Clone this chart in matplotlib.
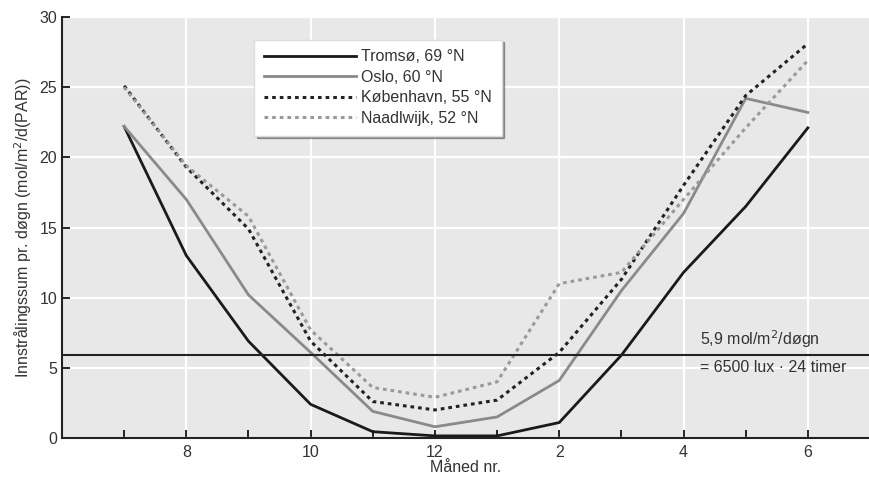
import numpy as np
import matplotlib.pyplot as plt

# månedene juli (7) til juni (18 = 6)
maaned = [7, 8, 9, 10, 11, 12, 13, 14, 15, 16, 17, 18]
tromso = [22.2, 13.0, 6.9, 2.4, 0.45, 0.15, 0.15, 1.1, 5.9, 11.8, 16.5, 22.1]
oslo = [22.2, 17.0, 10.2, 6.1, 1.9, 0.8, 1.5, 4.1, 10.5, 16.0, 24.2, 23.2]
kobenhavn = [25.1, 19.3, 14.9, 6.9, 2.6, 2.0, 2.7, 6.1, 11.3, 18.0, 24.4, 28.1]
naadlwijk = [25.0, 19.4, 15.8, 7.7, 3.6, 2.9, 4.0, 11.0, 11.8, 17.0, 22.1, 26.9]

xtick_pos = [8, 10, 12, 14, 16, 18]
xtick_lab = ['8', '10', '12', '2', '4', '6']
grense = 5.9

plt.rcParams['font.family'] = ['Liberation Sans', 'DejaVu Sans']

fig = plt.figure(figsize=(8.7, 4.79), dpi=100)
ax = fig.add_axes([62 / 870, 41 / 479, 808 / 870, 421 / 479])
ax.set_facecolor('#e8e8e8')

ax.plot(maaned, tromso, color='#1a1a1a', lw=2.0, label='Tromsø, 69 °N')
ax.plot(maaned, oslo, color='#8a8a8a', lw=2.0, label='Oslo, 60 °N')
ax.plot(maaned, kobenhavn, color='#222222', lw=2.2, ls=(0, (1.2, 1.3)),
        label='København, 55 °N')
ax.plot(maaned, naadlwijk, color='#9a9a9a', lw=2.2, ls=(0, (1.2, 1.3)),
        label='Naadlwijk, 52 °N')

ax.axhline(grense, color='#222222', lw=1.5)
ax.text(16.27, grense + 0.4, '5,9 mol/m$^2$/døgn', fontsize=11.5,
        color='#333333', va='bottom')
ax.text(16.27, grense - 0.35, '= 6500 lux · 24 timer', fontsize=11.5,
        color='#333333', va='top')

ax.set_xlim(6, 19)
ax.set_ylim(0, 30)
ax.set_xticks(xtick_pos)
ax.set_xticklabels(xtick_lab)
ax.set_xticks(maaned, minor=True)
ax.set_yticks([0, 5, 10, 15, 20, 25, 30])
ax.tick_params(axis='both', direction='in', length=6, width=1.2,
               labelsize=11.5, labelcolor='#333333')
ax.tick_params(axis='x', which='minor', direction='in', length=6, width=1.2)
ax.tick_params(axis='x', pad=5)

ax.grid(True, color='white', lw=1.6)
ax.set_axisbelow(True)
for s in ['top', 'right']:
    ax.spines[s].set_visible(False)
for s in ['left', 'bottom']:
    ax.spines[s].set_color('#222222')
    ax.spines[s].set_linewidth(1.5)

ax.set_xlabel('Måned nr.', fontsize=11.5, color='#333333', labelpad=0)
ax.set_ylabel('Innstrålingssum pr. døgn (mol/m$^2$/d(PAR))', fontsize=11.5,
              color='#333333', labelpad=4)

leg = ax.legend(loc='upper left', bbox_to_anchor=(0.228, 0.965), fontsize=11.5,
                handlelength=5.8, handletextpad=0.3, labelspacing=0.35,
                fancybox=False, shadow=True, framealpha=1,
                borderpad=0.6, labelcolor='#333333')
leg.get_frame().set_edgecolor('#dddddd')
leg.get_frame().set_facecolor('white')

fig.savefig('out.png', dpi=100)
